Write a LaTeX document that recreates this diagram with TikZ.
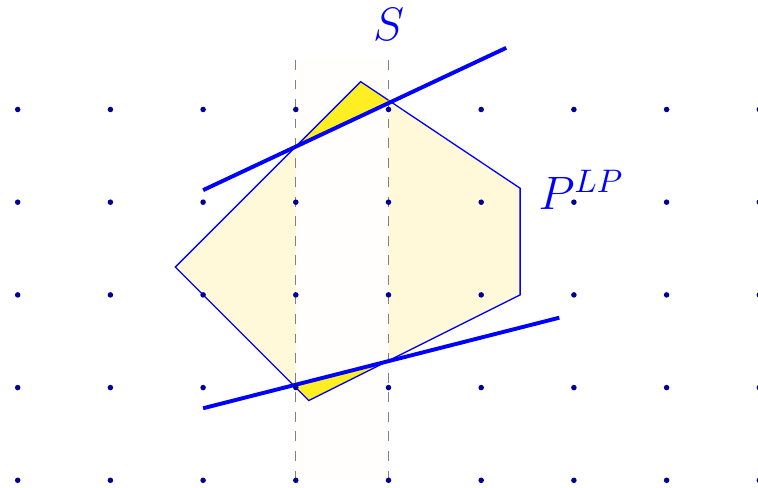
\documentclass[tikz,border=0pt]{standalone}
\definecolor{polyfill}{RGB}{255,249,217}
\definecolor{stripfill}{RGB}{255,254,253}
\definecolor{cutfill}{RGB}{255,238,34}
\definecolor{dotc}{RGB}{0,0,150}
\tikzset{
  thickcut/.style={blue, line width=1.2pt},
  stripline/.style={gray, dashed, line width=0.4pt},
  outline/.style={blue, line width=0.4pt},
  lbl/.style={blue, font=\Large}
}
\begin{document}
\begin{tikzpicture}
\useasboundingbox (-0.191,-0.083) rectangle (7.986,5.181);
\def\poly{(3.7,4.3) -- (5.42,3.15) -- (5.42,2) -- (3.14,0.86) -- (1.7,2.3) -- cycle}
\fill[polyfill] \poly;
\fill[stripfill] (3,0) rectangle (4,4.55);
\begin{scope}
  \clip (3,0) rectangle (4.05,4.55);
  \clip (2,3.13) -- (5.27,4.665) -- (5.27,6) -- (2,6) -- cycle;
  \fill[cutfill] \poly;
\end{scope}
\begin{scope}
  \clip (3,0) rectangle (4.05,4.55);
  \clip (2,0.777) -- (5.843,1.754) -- (5.843,-1) -- (2,-1) -- cycle;
  \fill[cutfill] \poly;
\end{scope}
\draw[outline] \poly;
\coordinate (d1a) at (3,0); \coordinate (d1b) at (3,4.55);
\coordinate (d2a) at (4,0); \coordinate (d2b) at (4,4.55);
\draw[stripline] (d1a) -- (d1b);
\draw[stripline] (d2a) -- (d2b);
\coordinate (u1) at (2,3.13); \coordinate (u2) at (5.27,4.665);
\coordinate (l1) at (2,0.777); \coordinate (l2) at (5.843,1.754);
\draw[thickcut] (u1) -- (u2);
\draw[thickcut] (l1) -- (l2);
\foreach \x in {0,...,8}
  \foreach \y in {0,...,4}
    \fill[dotc] (\x,\y) circle (0.85pt);
\node[lbl] (S) at (4,4.92) {$S$};
\node[lbl, anchor=base west, inner sep=0pt] (P) at (5.613,2.916) {$P^{LP}$};
\end{tikzpicture}
\end{document}
